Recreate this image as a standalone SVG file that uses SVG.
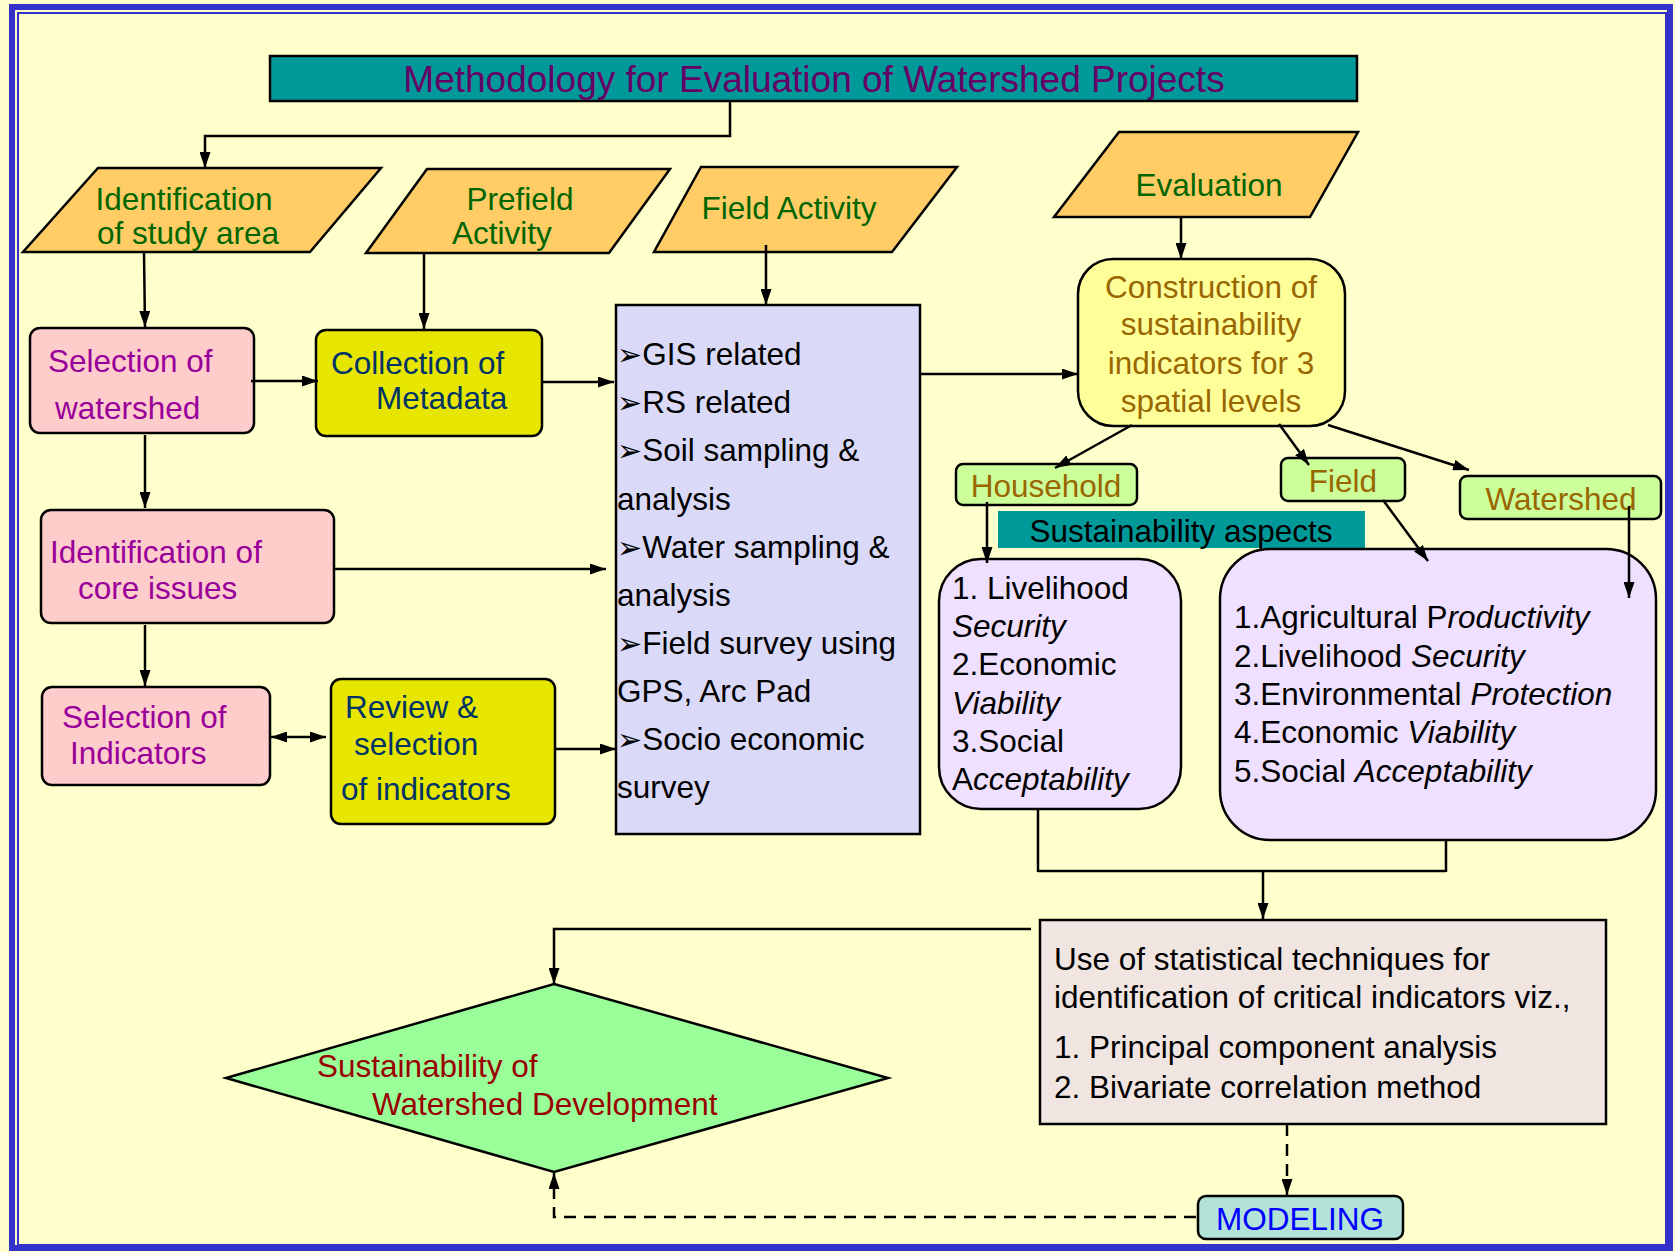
<svg xmlns="http://www.w3.org/2000/svg" width="1675" height="1252" viewBox="0 0 1675 1252">
<defs>
<style>
text{font-family:"Liberation Sans",Arial,sans-serif;font-size:31.5px;}
.title{font-size:37px;fill:#660066;}
.para{fill:#FFCC66;stroke:#000;stroke-width:2.5;}
.ptxt{fill:#006600;}
.pink{fill:#FFCCCC;stroke:#000;stroke-width:2.5;}
.ptk{fill:#990099;}
.yel{fill:#E6E600;stroke:#000;stroke-width:2.5;}
.ytxt{fill:#003366;}
.grn{fill:#CCFF99;stroke:#000;stroke-width:2.5;}
.brn{fill:#996600;}
.purp{fill:#EFE0FF;stroke:#000;stroke-width:2.5;}
.blk{fill:#000;}
.c{text-anchor:middle;}
.it{font-style:italic;}
.bul{font-family:"DejaVu Sans",sans-serif;font-size:30px;}
.con{fill:none;stroke:#000;stroke-width:2.5;}
.arr{marker-end:url(#ah);}
.dash{stroke-dasharray:12 8;}
</style>
<marker id="ah" viewBox="0 0 16 11" refX="16" refY="5.5" markerWidth="16" markerHeight="11" orient="auto-start-reverse" markerUnits="userSpaceOnUse">
<path d="M0,0 L16,5.5 L0,11 z" fill="#000"/>
</marker>
</defs>
<rect x="0" y="0" width="1675" height="1252" fill="#FFFFCC"/>
<g id="border">
<rect x="12" y="7" width="1658" height="1241" fill="none" stroke="#3333CC" stroke-width="6"/>
<rect x="18" y="13" width="1648" height="1232" fill="none" stroke="#3333CC" stroke-width="2"/>
</g>

<g id="title">
<rect x="270" y="56" width="1087" height="45" fill="#009999" stroke="#000" stroke-width="2.5"/>
<text class="title c" x="814" y="92">Methodology for Evaluation of Watershed Projects</text>
</g>

<g id="identification-study-area">
<polygon class="para" points="98,168 381,168 310,252 23,252"/>
<text class="ptxt c" x="184" y="210">Identification</text>
<text class="ptxt c" x="188" y="244">of study area</text>
</g>
<g id="prefield-activity">
<polygon class="para" points="427,169 670,169 609,253 366,253"/>
<text class="ptxt c" x="520" y="210">Prefield</text>
<text class="ptxt c" x="502" y="244">Activity</text>
</g>
<g id="field-activity">
<polygon class="para" points="701,167 957,167 892,252 654,252"/>
<text class="ptxt c" x="789" y="219">Field Activity</text>
</g>
<g id="evaluation">
<polygon class="para" points="1119,132 1358,132 1310,217 1054,217"/>
<text class="ptxt c" x="1209" y="196">Evaluation</text>
</g>

<g id="selection-watershed">
<rect class="pink" x="30" y="328" width="224" height="105" rx="10"/>
<text class="ptk" x="48" y="372">Selection of</text>
<text class="ptk" x="55" y="419">watershed</text>
</g>
<g id="collection-metadata">
<rect class="yel" x="316" y="330" width="226" height="106" rx="10"/>
<text class="ytxt" x="331" y="374">Collection of</text>
<text class="ytxt" x="376" y="409">Metadata</text>
</g>
<g id="identification-core-issues">
<rect class="pink" x="41" y="510" width="293" height="113" rx="10"/>
<text class="ptk" x="50" y="563">Identification of</text>
<text class="ptk" x="78" y="599">core issues</text>
</g>
<g id="selection-indicators">
<rect class="pink" x="42" y="687" width="228" height="98" rx="10"/>
<text class="ptk" x="62" y="728">Selection of</text>
<text class="ptk" x="70" y="764">Indicators</text>
</g>
<g id="review-selection">
<rect class="yel" x="331" y="679" width="224" height="145" rx="10"/>
<text class="ytxt" x="345" y="718">Review &amp;</text>
<text class="ytxt" x="354" y="755">selection</text>
<text class="ytxt" x="341" y="800">of indicators</text>
</g>

<g id="field-tasks">
<rect x="616" y="305" width="304" height="529" fill="#DADAF8" stroke="#000" stroke-width="2.5"/>
<text class="blk" x="617" y="365"><tspan class="bul">➢</tspan>GIS related</text>
<text class="blk" x="617" y="413"><tspan class="bul">➢</tspan>RS related</text>
<text class="blk" x="617" y="461"><tspan class="bul">➢</tspan>Soil sampling &amp;</text>
<text class="blk" x="617" y="510">analysis</text>
<text class="blk" x="617" y="558"><tspan class="bul">➢</tspan>Water sampling &amp;</text>
<text class="blk" x="617" y="606">analysis</text>
<text class="blk" x="617" y="654"><tspan class="bul">➢</tspan>Field survey using</text>
<text class="blk" x="617" y="702">GPS, Arc Pad</text>
<text class="blk" x="617" y="750"><tspan class="bul">➢</tspan>Socio economic</text>
<text class="blk" x="617" y="798">survey</text>
</g>

<g id="construction">
<rect x="1078" y="259" width="267" height="167" rx="35" fill="#FFFF99" stroke="#000" stroke-width="2.5"/>
<text class="brn c" x="1211" y="298">Construction of</text>
<text class="brn c" x="1211" y="335">sustainability</text>
<text class="brn c" x="1211" y="374">indicators for 3</text>
<text class="brn c" x="1211" y="412">spatial levels</text>
</g>

<g id="household">
<rect class="grn" x="956" y="464" width="181" height="41" rx="7"/>
<text class="brn c" x="1046" y="497">Household</text>
</g>
<g id="field">
<rect class="grn" x="1281" y="458" width="124" height="43" rx="7"/>
<text class="brn c" x="1343" y="492">Field</text>
</g>
<g id="watershed">
<rect class="grn" x="1460" y="476" width="201" height="43" rx="7"/>
<text class="brn c" x="1561" y="510">Watershed</text>
</g>

<g id="sustainability-aspects">
<rect x="998" y="511" width="367" height="37" fill="#009999"/>
<text class="blk c" x="1181" y="542">Sustainability aspects</text>
</g>

<g id="household-aspects">
<rect class="purp" x="939" y="559" width="242" height="250" rx="42"/>
<text class="blk" x="952" y="599">1. Livelihood</text>
<text class="blk it" x="952" y="637">Security</text>
<text class="blk" x="952" y="675">2.Economic</text>
<text class="blk it" x="952" y="714">Viability</text>
<text class="blk" x="952" y="752">3.Social</text>
<text class="blk" x="952" y="790">A<tspan class="it">cceptability</tspan></text>
</g>

<g id="field-watershed-aspects">
<rect class="purp" x="1220" y="549" width="436" height="291" rx="50"/>
<text class="blk" x="1234" y="628">1.Agricultural P<tspan class="it">roductivity</tspan></text>
<text class="blk" x="1234" y="667">2.Livelihood <tspan class="it">Security</tspan></text>
<text class="blk" x="1234" y="705">3.Environmental <tspan class="it">Protection</tspan></text>
<text class="blk" x="1234" y="743">4.Economic <tspan class="it">Viability</tspan></text>
<text class="blk" x="1234" y="782">5.Social <tspan class="it">Acceptability</tspan></text>
</g>

<g id="statistics">
<rect x="1040" y="920" width="566" height="204" fill="#F1E5E1" stroke="#000" stroke-width="2.5"/>
<text class="blk" x="1054" y="970">Use of statistical techniques for</text>
<text class="blk" x="1054" y="1008">identification of critical indicators viz.,</text>
<text class="blk" x="1054" y="1058">1. Principal component analysis</text>
<text class="blk" x="1054" y="1098">2. Bivariate correlation method</text>
</g>

<g id="sustainability-development">
<polygon points="554,984 888,1078 554,1172 226,1078" fill="#99FF99" stroke="#000" stroke-width="2.5"/>
<text x="317" y="1077" fill="#990000">Sustainability of</text>
<text x="372" y="1115" fill="#990000">Watershed Development</text>
</g>

<g id="modeling">
<rect x="1198" y="1196" width="205" height="43" rx="8" fill="#B3E3D8" stroke="#000" stroke-width="2.5"/>
<text class="c" x="1300" y="1230" fill="#0000FF">MODELING</text>
</g>

<g id="connectors">
<polyline class="con arr" points="730,101 730,136 205,136 205,168"/>
<line class="con arr" x1="144" y1="252" x2="145" y2="327"/>
<line class="con arr" x1="424" y1="253" x2="424" y2="329"/>
<line class="con arr" x1="766" y1="245" x2="766" y2="305"/>
<line class="con arr" x1="1181" y1="217" x2="1181" y2="259"/>
<line class="con arr" x1="251" y1="381" x2="318" y2="381"/>
<line class="con arr" x1="542" y1="382" x2="614" y2="382"/>
<line class="con arr" x1="145" y1="435" x2="145" y2="508"/>
<line class="con arr" x1="334" y1="569" x2="606" y2="569"/>
<line class="con arr" x1="145" y1="625" x2="145" y2="686"/>
<line class="con" x1="271" y1="737" x2="326" y2="737" marker-start="url(#ah)" marker-end="url(#ah)"/>
<line class="con arr" x1="555" y1="749" x2="616" y2="749"/>
<line class="con arr" x1="920" y1="374" x2="1078" y2="374"/>
<line class="con arr" x1="1132" y1="425" x2="1055" y2="468"/>
<line class="con arr" x1="1279" y1="424" x2="1309" y2="465"/>
<line class="con arr" x1="1328" y1="425" x2="1469" y2="470"/>
<line class="con arr" x1="987" y1="502" x2="987" y2="563"/>
<line class="con arr" x1="1383" y1="500" x2="1428" y2="561"/>
<line class="con arr" x1="1629" y1="506" x2="1629" y2="598"/>
<line class="con" x1="1038" y1="809" x2="1038" y2="872"/>
<line class="con" x1="1446" y1="840" x2="1446" y2="872"/>
<line class="con" x1="1038" y1="871" x2="1446" y2="871" stroke-width="3.5"/>
<line class="con arr" x1="1263" y1="871" x2="1263" y2="919"/>
<polyline class="con arr" points="1031,929 554,929 554,984" stroke-width="3"/>
<line class="con arr dash" x1="1287" y1="1124" x2="1287" y2="1195"/>
<polyline class="con arr dash" points="1196,1217 554,1217 554,1173"/>
</g>
</svg>
